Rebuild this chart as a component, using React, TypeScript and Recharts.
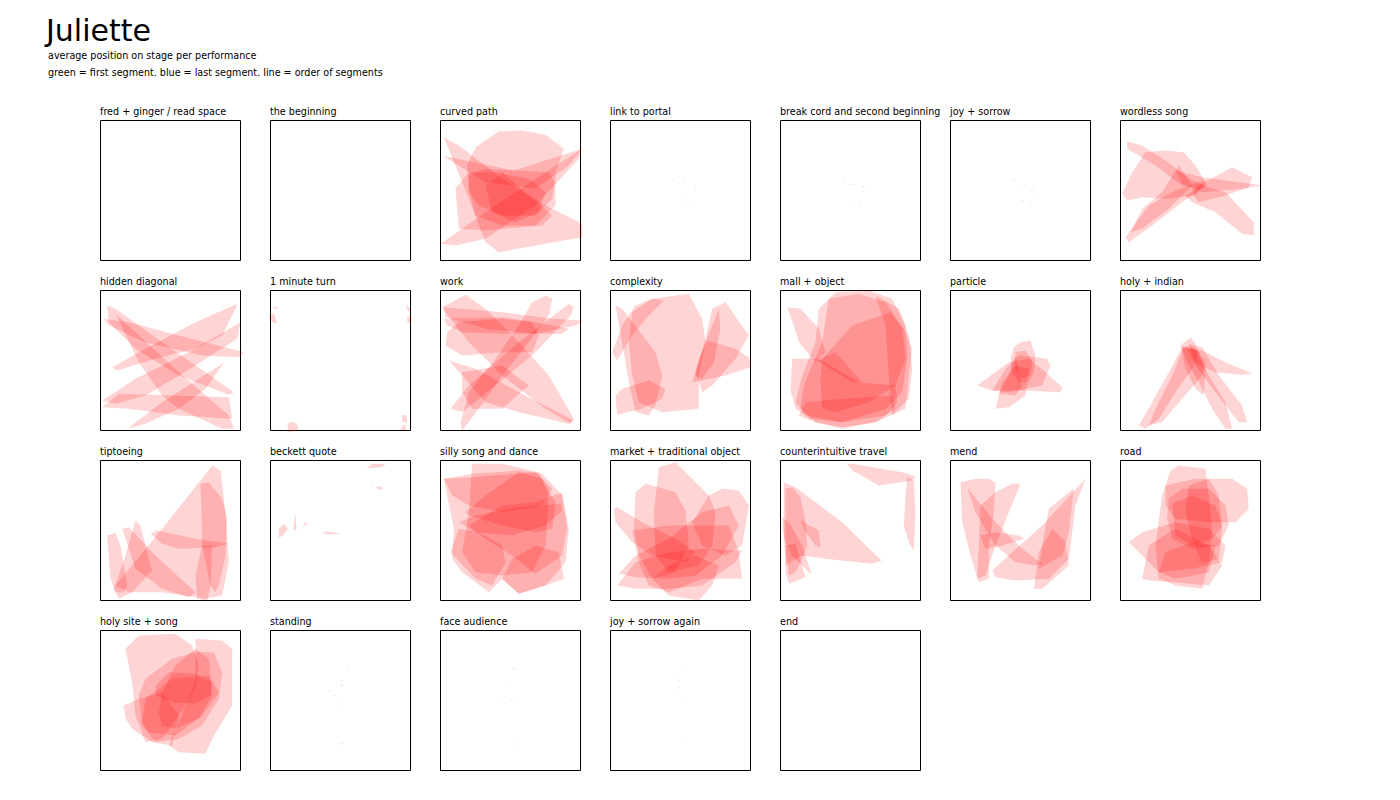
import React from 'react';
import { ScatterChart, Scatter, XAxis, YAxis, ReferenceArea } from 'recharts';

type Pt = [number, number];
type Poly = Pt[];

// Stage coordinates: 0..420 across, 0..420 from back (top) to front (bottom)
const panelTitles: string[] = [
  'fred + ginger / read space', 'the beginning', 'curved path', 'link to portal',
  'break cord and second beginning', 'joy + sorrow', 'wordless song',
  'hidden diagonal', '1 minute turn', 'work', 'complexity', 'mall + object', 'particle', 'holy + indian',
  'tiptoeing', 'beckett quote', 'silly song and dance', 'market + traditional object',
  'counterintuitive travel', 'mend', 'road',
  'holy site + song', 'standing', 'face audience', 'joy + sorrow again', 'end',
];

const fredGinger: Poly[] = [];
const theBeginning: Poly[] = [];
const curvedPath: Poly[] = [
  [[105, 80], [175, 33], [245, 30], [315, 43], [370, 85], [345, 155], [345, 255], [285, 315], [185, 315], [105, 285], [85, 205], [80, 135]],
  [[0, 370], [135, 275], [285, 175], [425, 85], [415, 115], [285, 255], [135, 355], [45, 375]],
  [[10, 50], [55, 75], [185, 175], [315, 255], [425, 310], [425, 350], [285, 375], [175, 395], [135, 365], [85, 235]],
  [[5, 105], [220, 150], [425, 85], [385, 135], [285, 205], [135, 185]],
  [[85, 165], [135, 145], [225, 150], [325, 155], [343, 185], [335, 235], [285, 285], [185, 285], [115, 255], [85, 215]],
  [[135, 195], [185, 160], [265, 175], [315, 215], [295, 275], [225, 305], [155, 275]],
  [[45, 205], [85, 155], [185, 155], [335, 285], [305, 315], [135, 330], [55, 325]],
];
const linkToPortal: Poly[] = [
  [[190, 175], [195, 176], [192, 180]], [[200, 187], [205, 188], [202, 192]], [[217, 187], [222, 188], [219, 192]],
  [[250, 197], [255, 198], [252, 202]], [[250, 207], [255, 208], [252, 212]], [[217, 237], [222, 238], [219, 242]],
  [[237, 245], [242, 246], [239, 250]],
];
const breakCord: Poly[] = [
  [[190, 175], [195, 176], [192, 180]], [[205, 190], [210, 191], [207, 195]], [[220, 191], [225, 192], [222, 196]],
  [[247, 197], [252, 198], [249, 202]], [[245, 211], [250, 212], [247, 216]], [[215, 238], [220, 239], [217, 243]],
  [[238, 247], [243, 248], [240, 252]],
];
const joySorrow: Poly[] = [
  [[190, 175], [195, 176], [192, 180]], [[202, 191], [207, 192], [204, 196]], [[220, 191], [225, 192], [222, 196]],
  [[247, 197], [252, 198], [249, 202]], [[243, 213], [248, 214], [245, 218]], [[215, 238], [220, 239], [217, 243]],
  [[238, 246], [243, 247], [240, 251]],
];
const wordlessSong: Poly[] = [
  [[20, 63], [65, 75], [135, 120], [215, 180], [255, 195], [235, 205], [185, 195], [105, 135], [20, 85]],
  [[5, 220], [35, 155], [75, 95], [135, 90], [190, 95], [225, 135], [255, 185], [225, 225], [135, 235], [65, 230], [20, 240]],
  [[165, 150], [245, 170], [425, 195], [365, 205], [245, 215], [185, 190]],
  [[215, 205], [335, 140], [395, 170], [385, 200], [315, 225], [235, 245], [220, 225]],
  [[15, 350], [85, 255], [165, 210], [250, 180], [260, 195], [185, 245], [95, 315], [25, 365]],
  [[30, 335], [65, 265], [125, 215], [175, 135], [215, 195], [145, 265], [65, 325]],
  [[195, 225], [245, 195], [315, 215], [400, 305], [400, 345], [365, 340], [285, 275], [215, 245]],
];
const hiddenDiagonal: Poly[] = [
  [[20, 45], [45, 55], [185, 155], [315, 245], [400, 305], [385, 313], [235, 255], [105, 175], [25, 95]],
  [[10, 85], [85, 95], [235, 135], [430, 185], [415, 200], [305, 195], [135, 155], [25, 105]],
  [[35, 230], [135, 175], [285, 95], [410, 40], [405, 55], [365, 135], [285, 175], [165, 205], [50, 240]],
  [[5, 330], [105, 265], [265, 185], [420, 95], [410, 145], [285, 225], [135, 315], [45, 340]],
  [[5, 350], [55, 310], [385, 320], [395, 385], [235, 375], [85, 355]],
  [[80, 415], [185, 335], [370, 217], [315, 295], [235, 355], [135, 400]],
  [[45, 70], [105, 125], [235, 245], [385, 375], [400, 415], [365, 415], [235, 355], [185, 315], [115, 215]],
];
const oneMinuteTurn: Poly[] = [
  [[5, 50], [20, 47], [18, 58]],
  [[-5, 80], [10, 67], [20, 100], [5, 95]],
  [[405, 43], [420, 55], [415, 65]],
  [[410, 80], [423, 75], [423, 100], [410, 95]],
  [[50, 405], [60, 393], [80, 400], [83, 420], [55, 425]],
  [[395, 375], [408, 373], [410, 395], [395, 395]],
  [[392, 410], [405, 400], [407, 420], [390, 420]],
];
const work: Poly[] = [
  [[5, 50], [75, 13], [135, 55], [235, 155], [325, 255], [400, 385], [390, 400], [315, 355], [185, 255], [85, 155], [15, 65]],
  [[10, 50], [185, 65], [335, 85], [430, 90], [405, 105], [285, 130], [135, 115], [15, 80]],
  [[10, 85], [185, 80], [285, 95], [385, 115], [365, 130], [185, 130], [65, 125], [20, 105]],
  [[20, 125], [55, 95], [185, 85], [275, 95], [295, 135], [275, 185], [185, 185], [65, 195], [15, 165]],
  [[275, 35], [315, 15], [335, 25], [325, 75], [265, 155], [185, 255], [115, 355], [65, 420], [60, 395], [85, 305], [165, 205], [235, 105]],
  [[385, 40], [400, 50], [390, 75], [285, 185], [165, 285], [65, 365], [30, 355], [85, 285], [235, 155]],
  [[25, 210], [105, 235], [235, 305], [400, 390], [385, 400], [235, 365], [135, 335], [65, 255]],
  [[65, 245], [185, 225], [265, 285], [185, 355], [95, 355], [65, 305]],
];
const complexity: Poly[] = [
  [[65, 65], [125, 25], [235, 10], [275, 85], [285, 155], [265, 255], [265, 355], [155, 365], [85, 335], [65, 255], [55, 155]],
  [[15, 45], [35, 55], [135, 185], [155, 255], [135, 345], [115, 375], [75, 365], [55, 275], [35, 155]],
  [[5, 185], [35, 105], [75, 45], [125, 25], [160, 30], [115, 75], [65, 135], [20, 210]],
  [[15, 315], [35, 295], [115, 270], [165, 295], [155, 325], [95, 355], [20, 373]],
  [[305, 55], [345, 35], [415, 135], [375, 205], [305, 285], [275, 305], [255, 245], [285, 145]],
  [[285, 155], [325, 55], [330, 115], [310, 215], [275, 265], [255, 255]],
  [[265, 205], [290, 150], [375, 175], [420, 205], [420, 230], [345, 255], [245, 275]],
];
const mallObject: Poly[] = [
  [[20, 50], [60, 55], [115, 115], [135, 185], [105, 215], [55, 155], [40, 105]],
  [[115, 55], [165, 5], [265, 0], [335, 25], [375, 105], [380, 205], [365, 305], [315, 355], [185, 395], [85, 385], [45, 335], [65, 255], [105, 155]],
  [[145, 25], [235, 10], [315, 35], [370, 115], [395, 175], [385, 255], [375, 355], [285, 395], [185, 410], [105, 395], [60, 355], [70, 285], [125, 155]],
  [[125, 205], [215, 105], [330, 65], [365, 115], [375, 205], [345, 285], [265, 335], [165, 365], [125, 355], [120, 275]],
  [[110, 210], [165, 185], [245, 275], [215, 275]],
  [[30, 300], [35, 205], [115, 205], [235, 275], [345, 285], [350, 335], [315, 375], [185, 395], [75, 375], [45, 355]],
  [[55, 375], [75, 335], [185, 325], [335, 315], [345, 355], [285, 395], [185, 415], [105, 395]],
  [[285, 15], [355, 55], [385, 135], [395, 235], [385, 325], [335, 375], [325, 255], [315, 105]],
];
const particle: Poly[] = [
  [[190, 170], [210, 155], [240, 150], [255, 195], [250, 245], [235, 275], [205, 275], [185, 245], [180, 205]],
  [[80, 285], [175, 215], [235, 205], [285, 245], [335, 290], [330, 305], [225, 300], [125, 300]],
  [[125, 300], [165, 235], [205, 195], [290, 205], [300, 225], [275, 285], [175, 305]],
  [[135, 355], [155, 275], [195, 225], [235, 235], [225, 315], [175, 350]],
  [[145, 310], [175, 255], [195, 195], [215, 285], [195, 315]],
  [[195, 185], [225, 180], [245, 210], [240, 255], [215, 265], [195, 235]],
];
const holyIndian: Poly[] = [
  [[185, 170], [210, 165], [235, 185], [215, 235], [165, 305], [115, 385], [75, 415], [55, 405], [95, 335], [145, 245]],
  [[190, 170], [225, 175], [255, 215], [245, 255], [185, 325], [125, 395], [85, 405], [105, 355], [155, 255]],
  [[185, 170], [225, 180], [265, 255], [315, 335], [335, 415], [315, 415], [275, 355], [235, 275], [195, 205]],
  [[205, 160], [245, 170], [295, 255], [365, 345], [380, 395], [355, 395], [285, 305], [225, 225]],
  [[195, 170], [245, 180], [315, 215], [395, 250], [365, 253], [285, 245], [225, 220]],
  [[180, 165], [210, 140], [225, 160], [255, 235], [250, 315], [225, 295], [195, 235]],
];
const tiptoeing: Poly[] = [
  [[45, 375], [185, 205], [335, 15], [360, 30], [375, 155], [385, 305], [365, 405], [315, 415], [185, 395], [85, 395]],
  [[300, 70], [325, 65], [365, 115], [380, 175], [375, 285], [355, 375], [345, 395], [330, 375], [305, 255], [303, 155]],
  [[150, 220], [170, 210], [285, 235], [385, 250], [345, 260], [235, 265], [185, 250]],
  [[20, 225], [45, 217], [60, 255], [80, 375], [70, 395], [45, 395], [30, 355]],
  [[40, 385], [75, 285], [105, 180], [120, 195], [145, 295], [155, 330], [95, 395], [55, 415]],
  [[65, 205], [85, 200], [165, 285], [285, 395], [265, 410], [185, 385], [105, 325]],
  [[285, 345], [305, 255], [335, 255], [330, 375], [320, 420], [290, 415]],
];
const beckettQuote: Poly[] = [
  [[290, 23], [305, 10], [345, 10], [335, 20]],
  [[300, 65], [305, 65], [303, 72]],
  [[315, 80], [330, 77], [337, 85], [325, 88]],
  [[25, 205], [40, 190], [52, 205], [42, 220], [25, 233]],
  [[68, 210], [75, 160], [78, 205]],
  [[95, 200], [105, 183], [110, 190]],
  [[155, 220], [170, 213], [215, 220], [175, 222]],
];
const sillySong: Poly[] = [
  [[10, 55], [95, 40], [235, 30], [305, 40], [365, 105], [385, 205], [375, 305], [315, 375], [235, 400], [185, 355], [145, 395], [65, 335], [35, 295], [40, 205]],
  [[95, 10], [185, 10], [295, 35], [325, 105], [315, 255], [275, 335], [185, 345], [105, 335], [65, 275], [85, 155]],
  [[10, 55], [95, 50], [285, 35], [335, 85], [305, 135], [185, 155], [85, 135], [35, 105]],
  [[75, 155], [135, 105], [235, 35], [305, 55], [345, 125], [335, 205], [285, 215], [185, 195], [85, 165]],
  [[55, 185], [105, 165], [235, 140], [360, 130], [365, 150], [315, 195], [215, 225], [105, 215]],
  [[85, 195], [185, 135], [285, 125], [365, 95], [380, 205], [365, 285], [285, 340], [215, 285], [135, 235]],
  [[185, 355], [215, 295], [285, 255], [355, 275], [370, 355], [315, 375], [235, 400]],
  [[30, 275], [55, 205], [115, 215], [185, 255], [195, 305], [155, 375], [105, 355]],
];
const marketObject: Poly[] = [
  [[145, 20], [195, 5], [235, 45], [295, 105], [315, 155], [305, 255], [265, 315], [175, 335], [135, 285], [130, 155]],
  [[75, 95], [105, 70], [195, 95], [225, 150], [235, 255], [195, 335], [125, 355], [85, 285], [70, 205]],
  [[295, 105], [335, 85], [385, 90], [415, 135], [405, 195], [395, 255], [345, 285], [275, 255], [245, 185]],
  [[10, 145], [20, 140], [95, 185], [195, 235], [255, 275], [225, 305], [125, 285], [65, 245], [15, 185]],
  [[25, 340], [75, 285], [175, 235], [275, 155], [355, 135], [385, 195], [335, 285], [255, 345], [175, 355], [75, 350]],
  [[20, 375], [75, 305], [175, 275], [275, 265], [395, 270], [375, 305], [275, 375], [175, 385], [75, 385]],
  [[65, 210], [175, 195], [355, 195], [385, 275], [395, 355], [275, 355], [175, 395], [115, 375], [85, 305]],
  [[125, 355], [175, 315], [255, 285], [325, 315], [305, 375], [265, 420], [175, 405]],
];
const counterTravel: Poly[] = [
  [[200, 10], [215, 10], [365, 35], [405, 47], [395, 60], [295, 75], [215, 30]],
  [[380, 50], [400, 60], [405, 155], [400, 270], [385, 245], [370, 195], [375, 105]],
  [[10, 65], [45, 80], [185, 185], [303, 300], [275, 310], [135, 295], [65, 285], [15, 315], [10, 215]],
  [[15, 85], [35, 80], [60, 110], [75, 185], [80, 255], [60, 305], [45, 335], [25, 345], [15, 255]],
  [[5, 170], [25, 185], [65, 255], [93, 340], [85, 335], [35, 285], [10, 235]],
  [[60, 180], [115, 210], [120, 260], [105, 255], [75, 215]],
  [[15, 255], [45, 250], [75, 350], [25, 370], [15, 335]],
];
const mend: Poly[] = [
  [[30, 65], [75, 55], [115, 55], [135, 65], [130, 155], [115, 255], [115, 355], [85, 365], [60, 285], [35, 185]],
  [[90, 135], [135, 95], [185, 70], [210, 70], [175, 155], [135, 255], [105, 345], [80, 355], [85, 255]],
  [[50, 80], [125, 175], [215, 265], [275, 310], [255, 315], [195, 305], [135, 255], [75, 155]],
  [[90, 225], [135, 215], [205, 225], [220, 235], [155, 255], [105, 265]],
  [[125, 330], [175, 285], [275, 195], [405, 55], [375, 135], [355, 295], [295, 355], [195, 360], [135, 350]],
  [[275, 255], [295, 145], [355, 95], [370, 85], [355, 215], [335, 285], [265, 325]],
  [[250, 385], [265, 275], [305, 205], [345, 245], [355, 315], [275, 385]],
];
const road: Poly[] = [
  [[150, 30], [175, 15], [255, 25], [265, 105], [275, 205], [265, 305], [245, 385], [165, 375], [115, 355], [105, 255], [125, 105]],
  [[135, 75], [225, 55], [335, 55], [380, 85], [385, 145], [345, 185], [265, 185], [165, 175], [135, 135]],
  [[25, 245], [65, 215], [165, 185], [265, 205], [315, 255], [305, 305], [215, 325], [115, 335], [65, 285]],
  [[65, 355], [85, 255], [165, 205], [265, 255], [305, 315], [265, 375], [165, 365], [85, 360]],
  [[145, 115], [185, 85], [265, 85], [315, 135], [325, 195], [295, 255], [215, 265], [155, 235], [140, 175]],
  [[155, 130], [215, 105], [285, 135], [305, 195], [275, 235], [215, 255], [165, 225]],
  [[205, 75], [265, 55], [295, 105], [305, 205], [295, 295], [245, 310], [215, 235], [195, 155]],
  [[115, 335], [135, 275], [215, 245], [285, 255], [265, 335], [165, 355]],
];
const holySite: Poly[] = [
  [[75, 55], [115, 15], [225, 10], [275, 45], [295, 105], [285, 175], [235, 255], [185, 325], [135, 335], [105, 255], [95, 155]],
  [[285, 25], [365, 30], [395, 55], [395, 225], [335, 325], [315, 370], [235, 365], [205, 345], [235, 275], [285, 155]],
  [[70, 225], [115, 205], [185, 185], [235, 255], [215, 345], [155, 335], [95, 295], [75, 265]],
  [[115, 195], [135, 145], [215, 85], [285, 65], [340, 65], [365, 125], [355, 205], [305, 285], [235, 325], [165, 335], [125, 285]],
  [[165, 165], [205, 125], [285, 130], [335, 155], [330, 195], [285, 220], [215, 215], [165, 195]],
  [[175, 245], [185, 185], [225, 105], [285, 55], [325, 85], [335, 195], [295, 265], [225, 295], [185, 285]],
  [[125, 275], [135, 205], [215, 145], [325, 135], [355, 185], [305, 255], [225, 315], [145, 305]],
];
const standing: Poly[] = [
  [[230, 105], [233, 104], [234, 112]], [[205, 150], [218, 148], [216, 151]], [[210, 167], [218, 160], [215, 168]],
  [[170, 180], [183, 179], [182, 182]], [[188, 193], [192, 193], [191, 198]], [[206, 218], [210, 218], [209, 224]],
  [[208, 340], [216, 336], [214, 343]],
];
const faceAudience: Poly[] = [
  [[215, 115], [225, 112], [222, 118]], [[206, 150], [209, 151], [207, 157]], [[213, 206], [217, 207], [214, 215]],
  [[189, 196], [192, 197], [190, 200]], [[218, 338], [222, 338], [220, 343]],
];
const joySorrowAgain: Poly[] = [
  [[219, 115], [222, 116], [220, 121]], [[203, 148], [207, 148], [205, 155]], [[205, 167], [209, 167], [207, 173]],
  [[191, 193], [195, 194], [193, 198]], [[213, 203], [217, 203], [215, 208]], [[218, 338], [222, 338], [220, 342]],
];
const theEnd: Poly[] = [];

const panelShapes: Poly[][] = [
  fredGinger, theBeginning, curvedPath, linkToPortal, breakCord, joySorrow, wordlessSong,
  hiddenDiagonal, oneMinuteTurn, work, complexity, mallObject, particle, holyIndian,
  tiptoeing, beckettQuote, sillySong, marketObject, counterTravel, mend, road,
  holySite, standing, faceAudience, joySorrowAgain, theEnd,
];

// stage corners (used for the frame of every panel)
const stageX: number[] = [0, 420];
const stageY: number[] = [0, 420];

const FONT = '"DejaVu Sans", Verdana, sans-serif';

const polyLine = (p: any) => {
  const pts: { x: number; y: number }[] = p.points || [];
  if (!pts.length) return <g />;
  const d = pts.map((q, i) => `${i ? 'L' : 'M'}${q.x},${q.y}`).join('') + 'Z';
  return <path d={d} fill="#ff0000" fillOpacity={0.17} stroke="none" />;
};
const noShape = () => <g />;

const Panel = ({ polys }: { polys: Poly[] }) => (
  <ScatterChart width={160} height={160} margin={{ top: 0, right: 0, bottom: 0, left: 0 }}>
    <XAxis type="number" dataKey="x" domain={[-31.5, 448.5]} hide />
    <YAxis type="number" dataKey="y" domain={[-31.5, 448.5]} reversed hide />
    {/* invisible stage corners keep the frame drawn even on empty panels */}
    <Scatter
      data={[{ x: stageX[0], y: stageY[0] }, { x: stageX[1], y: stageY[1] }]}
      shape={noShape}
      isAnimationActive={false}
    />
    {polys.map((poly, j) => (
      <Scatter
        key={j}
        data={poly.map(([x, y]) => ({ x, y }))}
        line={polyLine}
        lineType="joint"
        shape={noShape}
        isAnimationActive={false}
      />
    ))}
    <ReferenceArea x1={stageX[0]} x2={stageX[1]} y1={stageY[0]} y2={stageY[1]} fill="none" stroke="#000" strokeWidth={1} strokeOpacity={1} fillOpacity={0} />
  </ScatterChart>
);

export default function App() {
  return (
    <div style={{ position: 'absolute', left: 0, top: 0, width: 1400, height: 800, background: '#fff' }}>
      <svg width={1400} height={800} style={{ position: 'absolute', left: 0, top: 0 }}>
        <text x={46} y={41} fontFamily={FONT} fontSize={30} fill="#000">Juliette</text>
        <text x={48} y={59} fontFamily={FONT} fontSize={9.6} fill="#000">average position on stage per performance</text>
        <text x={48} y={76} fontFamily={FONT} fontSize={9.6} fill="#000">green = first segment. blue = last segment. line = order of segments</text>
        {panelTitles.map((t, i) => (
          <text key={i} x={100 + 170 * (i % 7)} y={115} dy={170 * Math.floor(i / 7)} fontFamily={FONT} fontSize={9.6} fill="#000">{t}</text>
        ))}
      </svg>
      {panelShapes.map((polys, i) => (
        <div key={i} style={{ position: 'absolute', left: 90 + 170 * (i % 7), top: 110 + 170 * Math.floor(i / 7) }}>
          <Panel polys={polys} />
        </div>
      ))}
    </div>
  );
}
